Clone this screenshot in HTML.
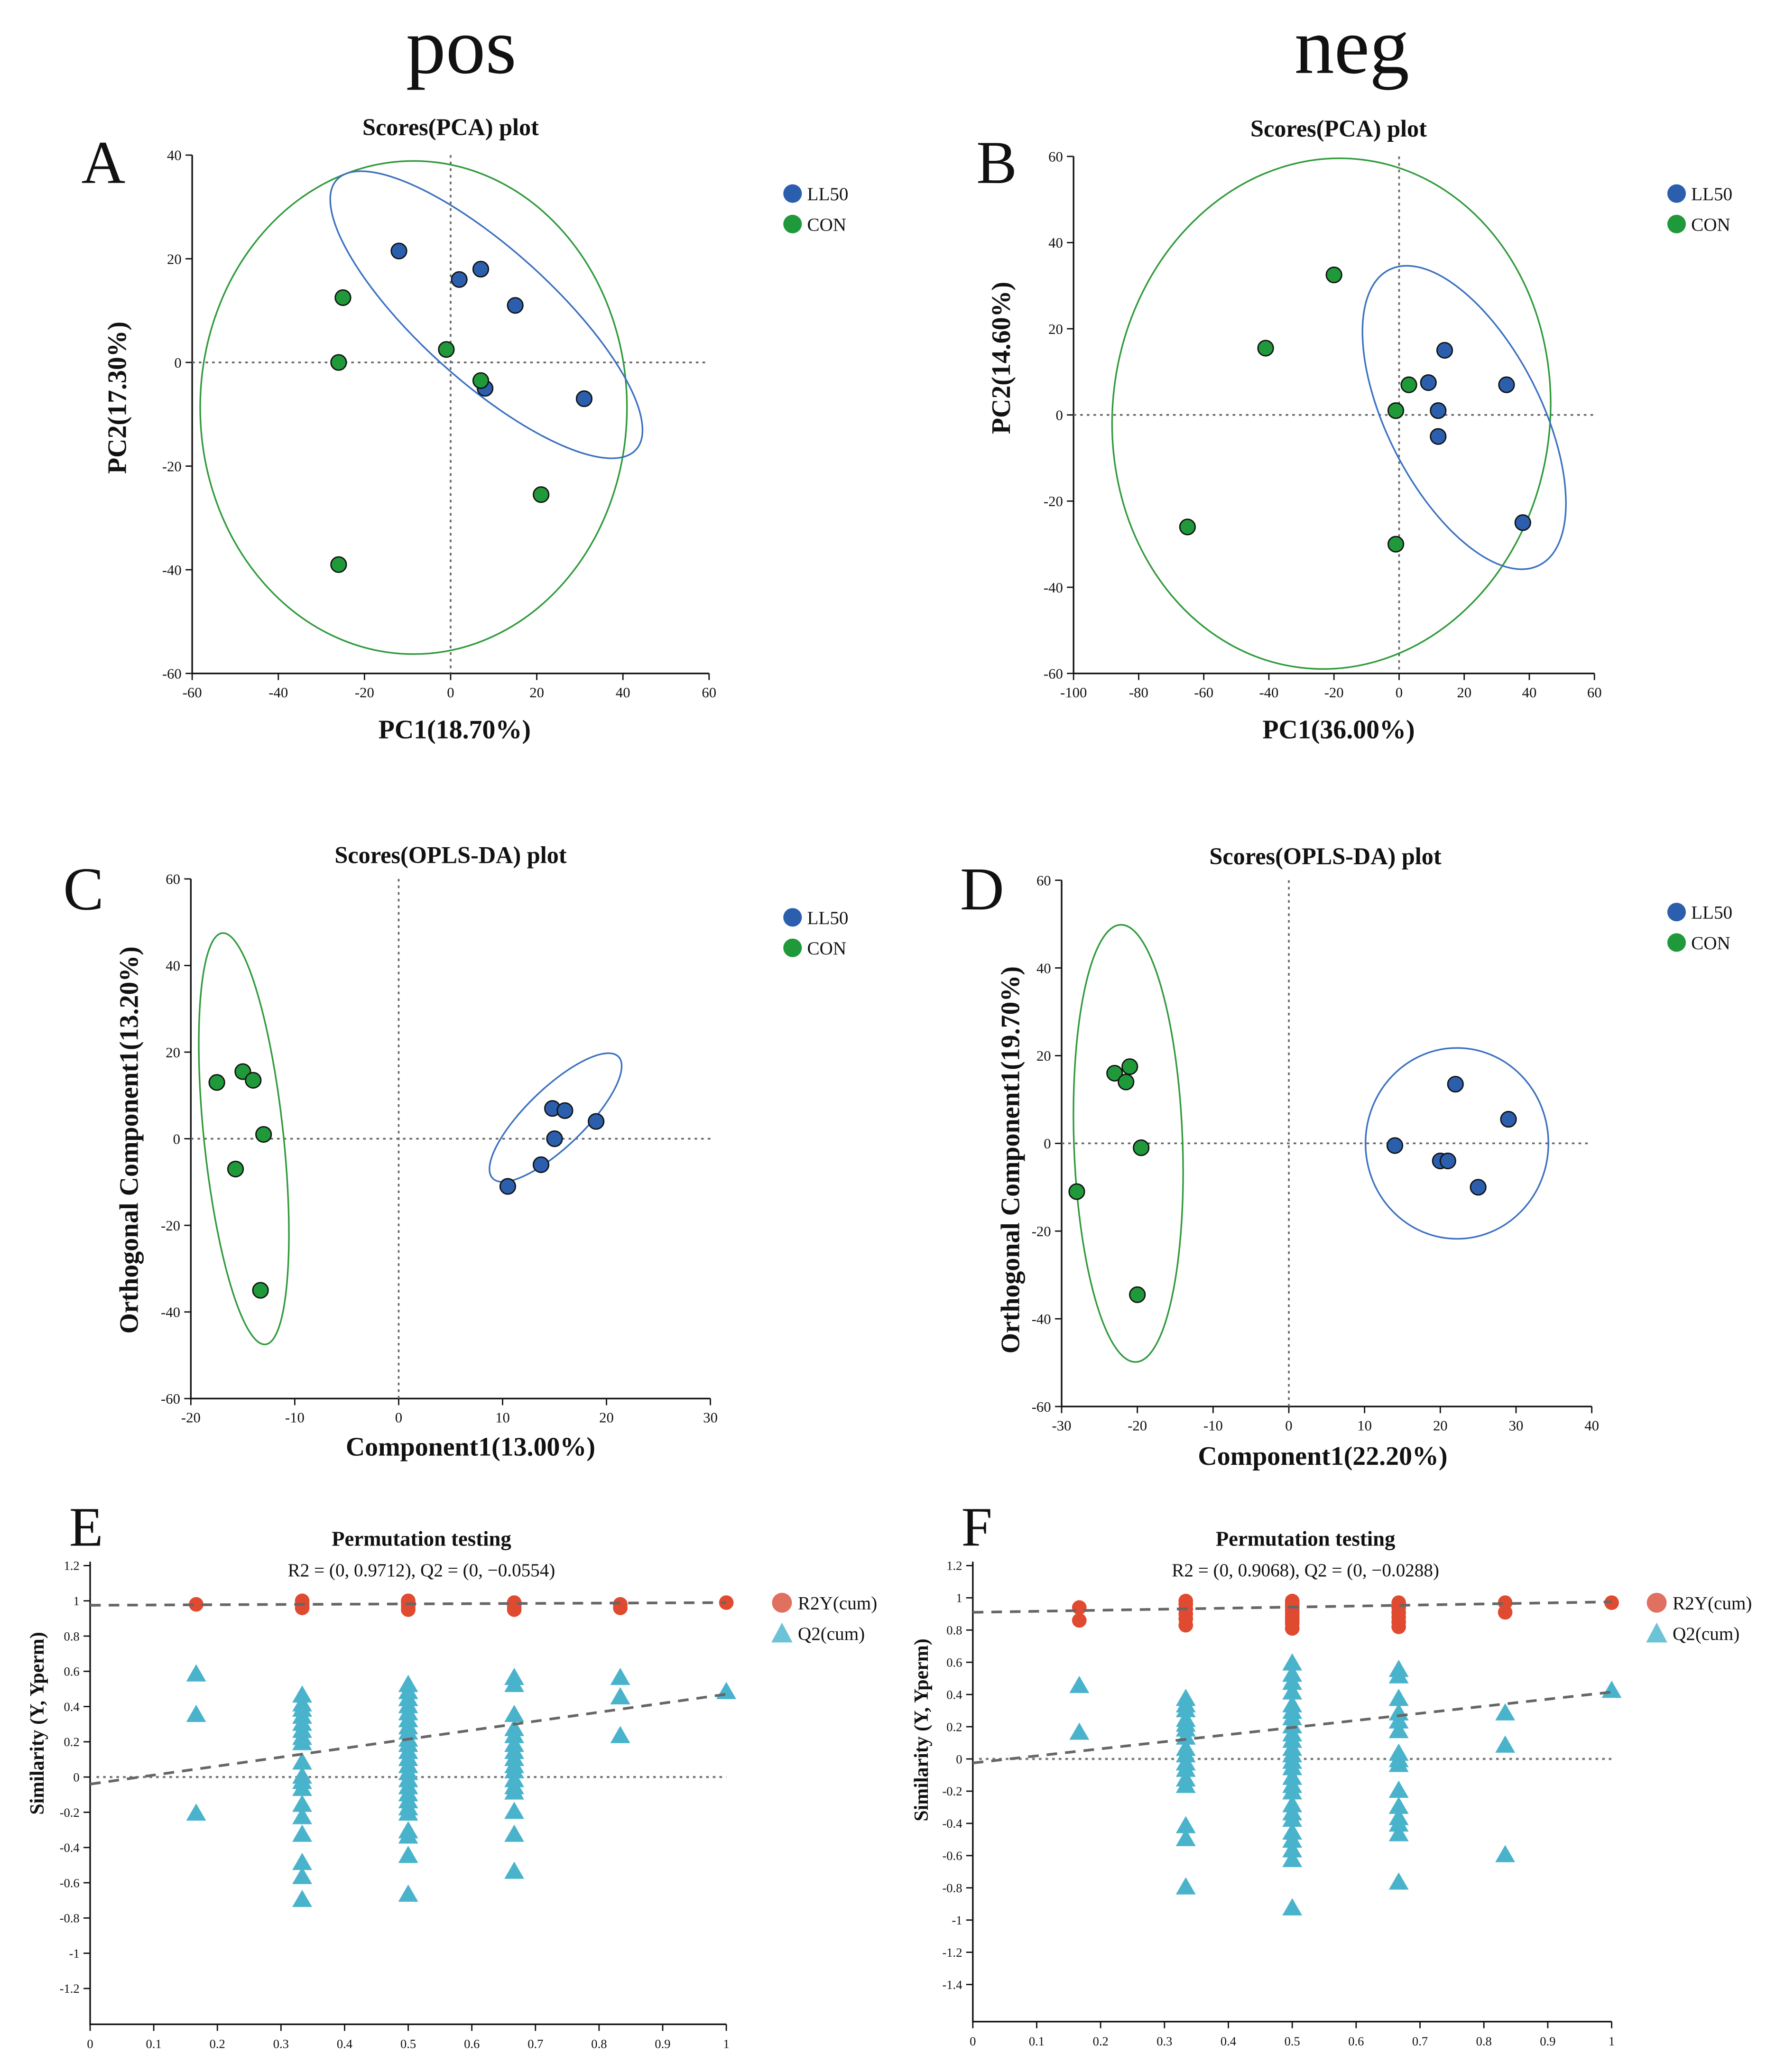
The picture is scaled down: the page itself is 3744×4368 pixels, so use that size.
<!DOCTYPE html>
<html><head><meta charset="utf-8"><style>
html,body{margin:0;padding:0;background:#fff;}
svg{display:block;}
text{font-family:"Liberation Serif","DejaVu Serif",serif;fill:#111;}
</style></head><body>
<svg id="fig" xmlns="http://www.w3.org/2000/svg" width="3744" height="4368" viewBox="0 0 1340 1563" preserveAspectRatio="none">
<text x="348" y="55" font-size="60" text-anchor="middle">pos</text>
<text x="1020" y="55" font-size="60" text-anchor="middle">neg</text>
</svg>
<script>
// ---------- DATA ----------
const aLLx=[-12,2,7,15,31,8], aLLy=[21.5,16,18,11,-7,-5];
const aCONx=[-25,-26,-1,7,21,-26], aCONy=[12.5,0,2.5,-3.5,-25.5,-39];
const bLLx=[9,14,12,12,33,38], bLLy=[7.5,15,1,-5,7,-25];
const bCONx=[-20,-41,3,-1,-65,-1], bCONy=[32.5,15.5,7,1,-26,-30];
const cLLx=[14.8,16,15,13.7,10.5,19], cLLy=[7,6.5,0,-6,-11,4];
const cCONx=[-17.5,-15,-14,-13,-15.7,-13.3], cCONy=[13,15.5,13.5,1,-7,-35];
const dLLx=[22,29,14,20,21,25], dLLy=[13.5,5.5,-0.5,-4,-4,-10];
const dCONx=[-23,-21,-21.5,-19.5,-28,-20], dCONy=[16,17.5,14,-1,-11,-34.5];
const ellCenters={A:[[-8.6,-8.7],[8.3,9.2]],B:[[-20.8,0.3],[20,-0.6]],C:[[-14.9,0],[15.1,4.9]],D:[[-21.2,0],[22.2,0]]};
const xTicksA=[-60,-40,-20,0,20,40,60], yTicksA=[40,20,0,-20,-40,-60];
const xTicksB=[-100,-80,-60,-40,-20,0,20,40,60], yTicksB=[60,40,20,0,-20,-40,-60];
const xTicksC=[-20,-10,0,10,20,30], yTicksC=[60,40,20,0,-20,-40,-60];
const xTicksD=[-30,-20,-10,0,10,20,30,40], yTicksD=[60,40,20,0,-20,-40,-60];
const permX=[0,0.1,0.2,0.3,0.4,0.5,0.6,0.7,0.8,0.9,1];
const yTicksE=[1.2,1,0.8,0.6,0.4,0.2,0,-0.2,-0.4,-0.6,-0.8,-1,-1.2];
const yTicksF=[1.2,1,0.8,0.6,0.4,0.2,0,-0.2,-0.4,-0.6,-0.8,-1,-1.2,-1.4];
const groupX=[1/6,2/6,3/6,4/6,5/6,1];
const eR2=[[0.98],[0.96,0.98,1.0],[0.95,0.97,0.99,1.0],[0.95,0.97,0.99],[0.96,0.98],[0.99]];
const eQ2=[[0.58,0.35,-0.21],[0.46,0.41,0.38,0.34,0.30,0.26,0.22,0.19,0.08,0.0,-0.03,-0.07,-0.16,-0.23,-0.33,-0.49,-0.57,-0.70],
[0.52,0.48,0.44,0.40,0.36,0.32,0.28,0.25,0.21,0.18,0.14,0.10,0.06,0.02,-0.02,-0.06,-0.10,-0.14,-0.18,-0.21,-0.31,-0.34,-0.45,-0.67],
[0.56,0.52,0.35,0.27,0.23,0.18,0.14,0.10,0.06,0.03,-0.02,-0.06,-0.09,-0.20,-0.33,-0.54],[0.56,0.45,0.23],[0.48]];
const fR2=[[0.94,0.86],[0.98,0.96,0.93,0.90,0.87,0.83],[0.98,0.96,0.94,0.92,0.90,0.88,0.86,0.84,0.81],[0.97,0.94,0.91,0.88,0.85,0.82],[0.97,0.91],[0.97]];
const fQ2=[[0.45,0.16],[0.37,0.33,0.30,0.24,0.21,0.18,0.13,0.06,0.02,-0.03,-0.07,-0.13,-0.17,-0.42,-0.50,-0.80],
[0.59,0.52,0.47,0.41,0.33,0.29,0.25,0.20,0.15,0.11,0.06,0.02,-0.02,-0.06,-0.12,-0.17,-0.21,-0.29,-0.34,-0.38,-0.46,-0.51,-0.57,-0.63,-0.93],
[0.55,0.51,0.37,0.28,0.23,0.17,0.03,-0.01,-0.04,-0.20,-0.30,-0.37,-0.41,-0.47,-0.77],[0.28,0.08,-0.60],[0.42]];
const eLineR2=[0.975,0.99], eLineQ2=[-0.04,0.47];
const fLineR2=[0.91,0.975], fLineQ2=[-0.025,0.415];

// ---------- HELPERS ----------
const svg=document.getElementById('fig');
const NS='http://www.w3.org/2000/svg';
function mk(tag,attrs,parent){const e=document.createElementNS(NS,tag);for(const k in attrs)e.setAttribute(k,attrs[k]);(parent||svg).appendChild(e);return e;}
function lin(d0,d1,p0,p1){return v=>p0+(v-d0)*(p1-p0)/(d1-d0);}
function txt(x,y,s,size,opts,parent){const t=mk('text',Object.assign({x:x,y:y,'font-size':size},opts||{}),parent);t.textContent=s;return t;}

function axes(g,X,Y,xt,yt,x0,x1,y0,y1,fs,fmt){
  const ax=mk('path',{d:`M${x0} ${y0}V${y1}H${x1}`,stroke:'#111','stroke-width':1.2,fill:'none'},g);
  
  
  xt.forEach(v=>{const x=X(v);mk('line',{x1:x,x2:x,y1:y1,y2:y1+5,stroke:'#111','stroke-width':1},g);
    const t=txt(x,y1+18,fmt?fmt(v):String(v),fs,{'text-anchor':'middle'},g);
    
    });
  yt.forEach(v=>{const y=Y(v);mk('line',{x1:x0-5,x2:x0,y1:y,y2:y,stroke:'#111','stroke-width':1},g);
    const t=txt(x0-8,y+fs*0.35,fmt?fmt(v):String(v),fs,{'text-anchor':'end'},g);
    
    });
}

function scoresPanel(cfg){
  const g=mk('g',{});
  
  
  const X=lin(cfg.xd[0],cfg.xd[1],cfg.x0,cfg.x1), Y=lin(cfg.yd[0],cfg.yd[1],cfg.y0,cfg.y1);
  axes(g,X,Y,cfg.xt,cfg.yt,cfg.x0,cfg.x1,cfg.y0,cfg.y1,11);
  mk('line',{x1:X(0),x2:X(0),y1:cfg.y0,y2:cfg.y1,stroke:'#666','stroke-width':1.3,'stroke-dasharray':'2 3'},g);
  mk('line',{x1:cfg.x0,x2:cfg.x1,y1:Y(0),y2:Y(0),stroke:'#666','stroke-width':1.3,'stroke-dasharray':'2 3'},g);
  const ec=ellCenters[cfg.key];
  [[ec[0],cfg.eG,'#2e9a3a','con-ellipse'],[ec[1],cfg.eB,'#3a70c0','ll50-ellipse']].forEach(([c,e,col,nm])=>{
    const cx=X(c[0]),cy=Y(c[1]);
    const el=mk('ellipse',{cx:cx,cy:cy,rx:e[0],ry:e[1],transform:`rotate(${e[2]} ${cx} ${cy})`,fill:'none',stroke:col,'stroke-width':1.2},g);
    
    
  });
  cfg.ll[0].forEach((v,i)=>{const p=mk('circle',{cx:X(v),cy:Y(cfg.ll[1][i]),r:5.8,fill:'#2b5fad',stroke:'#111','stroke-width':1},g);
    
    });
  cfg.con[0].forEach((v,i)=>{const p=mk('circle',{cx:X(v),cy:Y(cfg.con[1][i]),r:5.8,fill:'#20993a',stroke:'#111','stroke-width':1},g);
    
    });
  const t=txt(cfg.title[0],cfg.title[1],cfg.titleText,18,{'text-anchor':'middle','font-weight':'bold'},g);
  
  
  const xl=txt(cfg.xl[0],cfg.xl[1],cfg.xlText,20,{'text-anchor':'middle','font-weight':'bold'},g);
  
  
  const yl=txt(0,0,cfg.ylText,20,{'text-anchor':'middle','font-weight':'bold',transform:`translate(${cfg.yl[0]} ${cfg.yl[1]}) rotate(-90)`},g);
  
  
  const L=txt(cfg.letter[0],cfg.letter[1],cfg.key,46,{'text-anchor':'middle'},g);
  
  
  [['#2b5fad','LL50',0],['#20993a','CON',23]].forEach(([c,s,d])=>{
    const lc=mk('circle',{cx:cfg.leg[0],cy:cfg.leg[1]+d,r:7,fill:c},g);
    
    
    const lt=txt(cfg.leg[0]+11,cfg.leg[1]+d+5,s,14,{},g);
    
    
  });
}

scoresPanel({name:'pca-pos-panel',key:'A',xd:[-60,60],yd:[40,-60],x0:145,x1:535,y0:117,y1:508,xt:xTicksA,yt:yTicksA,
  ll:[aLLx,aLLy],con:[aCONx,aCONy],eG:[161,186,0],eB:[152,50,42],title:[340,102],titleText:'Scores(PCA) plot',
  xl:[343,557],xlText:'PC1(18.70%)',yl:[95,300],ylText:'PC2(17.30%)',letter:[78,138],leg:[598,146]});
scoresPanel({name:'pca-neg-panel',key:'B',xd:[-100,60],yd:[60,-60],x0:810,x1:1203,y0:118,y1:508,xt:xTicksB,yt:yTicksB,
  ll:[bLLx,bLLy],con:[bCONx,bCONy],eG:[165,193,7],eB:[125,58,63],title:[1010,103],titleText:'Scores(PCA) plot',
  xl:[1010,557],xlText:'PC1(36.00%)',yl:[762,270],ylText:'PC2(14.60%)',letter:[752,138],leg:[1265,146]});
scoresPanel({name:'oplsda-pos-panel',key:'C',xd:[-20,30],yd:[60,-60],x0:144,x1:536,y0:663,y1:1055,xt:xTicksC,yt:yTicksC,
  ll:[cLLx,cLLy],con:[cCONx,cCONy],eG:[30,156,-6],eB:[66,22,-44],title:[340,651],titleText:'Scores(OPLS-DA) plot',
  xl:[355,1098],xlText:'Component1(13.00%)',yl:[104,860],ylText:'Orthogonal Component1(13.20%)',letter:[63,686],leg:[598,692]});
scoresPanel({name:'oplsda-neg-panel',key:'D',xd:[-30,40],yd:[60,-60],x0:801,x1:1201,y0:664,y1:1061,xt:xTicksD,yt:yTicksD,
  ll:[dLLx,dLLy],con:[dCONx,dCONy],eG:[41,165,-2],eB:[69,72,0],title:[1000,652],titleText:'Scores(OPLS-DA) plot',
  xl:[998,1105],xlText:'Component1(22.20%)',yl:[769,875],ylText:'Orthogonal Component1(19.70%)',letter:[741,686],leg:[1265,688]});

function permPanel(cfg){
  const g=mk('g',{});
  
  
  const X=lin(0,1,cfg.x0,cfg.x1), Y=lin(cfg.yd[0],cfg.yd[1],cfg.y0,cfg.y1);
  axes(g,X,Y,permX,cfg.yt,cfg.x0,cfg.x1,cfg.axTop,cfg.axBot,9.5,v=>String(Math.round(v*10)/10));
  mk('line',{x1:X(0.01),x2:X(1),y1:Y(0),y2:Y(0),stroke:'#777','stroke-width':1.6,'stroke-dasharray':'2 3'},g);
  cfg.q2.forEach((arr,i)=>arr.forEach(v=>{const x=X(groupX[i]),y=Y(v);
    const p=mk('path',{d:`M${x} ${y-8}L${x+7.5} ${y+5}L${x-7.5} ${y+5}Z`,fill:'#4ab3cc'},g);
    
    }));
  cfg.r2.forEach((arr,i)=>arr.forEach(v=>{
    const p=mk('circle',{cx:X(groupX[i]),cy:Y(v),r:5.5,fill:'#e04a30'},g);
    
    }));
  [[cfg.lr2,'r2y-regression-line'],[cfg.lq2,'q2-regression-line']].forEach(([l,nm])=>{
    const ln=mk('line',{x1:X(0),y1:Y(l[0]),x2:X(1),y2:Y(l[1]),stroke:'#666','stroke-width':2,'stroke-dasharray':'8 6'},g);
    
    
  });
  const t=txt(cfg.tx,1166,'Permutation testing',16,{'text-anchor':'middle','font-weight':'bold'},g);
  
  
  const s=txt(cfg.tx,1189,cfg.sub,14,{'text-anchor':'middle'},g);
  
  
  const yl=txt(0,0,'Similarity (Y, Yperm)',15,{'text-anchor':'middle','font-weight':'bold',transform:`translate(${cfg.ylx} ${cfg.yly}) rotate(-90)`},g);
  
  
  const L=txt(cfg.lx,1166,cfg.key,42,{'text-anchor':'middle'},g);
  
  
  const lc=mk('circle',{cx:cfg.legx,cy:1209,r:7.5,fill:'#e07060'},g);
  
  
  const lt1=txt(cfg.legx+12,1214,'R2Y(cum)',14,{},g);
  
  
  const lm=mk('path',{d:`M${cfg.legx} ${1224}L${cfg.legx+8} ${1239}L${cfg.legx-8} ${1239}Z`,fill:'#6cc3d6'},g);
  
  
  const lt2=txt(cfg.legx+12,1237,'Q2(cum)',14,{},g);
  
  
}
permPanel({name:'permutation-pos-panel',key:'E',x0:68,x1:548,yd:[1.2,-1.2],y0:1181,y1:1500,axTop:1178,axBot:1527,yt:yTicksE,
  q2:eQ2,r2:eR2,lr2:eLineR2,lq2:eLineQ2,tx:318,sub:'R2 = (0, 0.9712), Q2 = (0, \u22120.0554)',ylx:33,yly:1300,lx:65,legx:590});
permPanel({name:'permutation-neg-panel',key:'F',x0:734,x1:1216,yd:[1.2,-1.4],y0:1181,y1:1497,axTop:1178,axBot:1525,yt:yTicksF,
  q2:fQ2,r2:fR2,lr2:fLineR2,lq2:fLineQ2,tx:985,sub:'R2 = (0, 0.9068), Q2 = (0, \u22120.0288)',ylx:700,yly:1305,lx:737,legx:1250});
</script>
</body></html>
